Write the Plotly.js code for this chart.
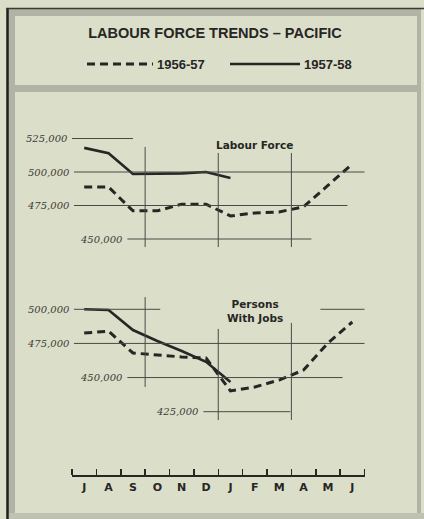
<!DOCTYPE html>
<html>
<head>
<meta charset="utf-8">
<script src="https://cdn.plot.ly/plotly-3.0.1.min.js"></script>
<style>html,body{margin:0;padding:0;background:#dbdec9;}#chart{width:424px;height:519px;}</style>
</head>
<body>
<div id="chart"></div>
<script>
// ---- data ----
const months = ['J','A','S','O','N','D','J','F','M','A','M','J'];
const labourForce5657 = [488800, 488800, 471000, 471000, 476000, 476000, 467200, 469400, 470200, 474000, 490000, 506000];
const labourForce5758 = [518000, 514000, 498500, 498500, 499000, 500000, 495500];
const withJobs5657 = [482600, 484000, 468000, 466500, 465100, 464300, 440200, 443100, 448200, 455500, 475300, 490700];
const withJobs5758 = [500000, 499500, 484800, 476800, 469500, 461500, 446700];
const seriesNames = ['1956-57', '1957-58'];
const topTicks = [525000, 500000, 475000, 450000];
const bottomTicks = [500000, 475000, 450000, 425000];
const panelLabels = ['Labour Force', 'Persons<br>With Jobs'];
const titleText = 'LABOUR FORCE TRENDS \u2013 PACIFIC';

// ---- layout helpers ----
const W = 424, H = 519;
const px = v => v / W;
const py = v => 1 - v / H;
const ink = '#262624';
const grid = '#4a4a46';
const idx = arr => arr.map((_, i) => i);
const fmt = v => v.toLocaleString('en-US');

const dashed = {color: ink, width: 3, dash: '8px,5px'};
const solid = {color: ink, width: 2.6};

const traces = [
  {x: idx(labourForce5657), y: labourForce5657, xaxis: 'x', yaxis: 'y', mode: 'lines', line: dashed, name: seriesNames[0]},
  {x: idx(labourForce5758), y: labourForce5758, xaxis: 'x', yaxis: 'y', mode: 'lines', line: solid, name: seriesNames[1]},
  {x: idx(withJobs5657), y: withJobs5657, xaxis: 'x', yaxis: 'y2', mode: 'lines', line: dashed, name: seriesNames[0]},
  {x: idx(withJobs5758), y: withJobs5758, xaxis: 'x', yaxis: 'y2', mode: 'lines', line: solid, name: seriesNames[1]}
];

// gridline extents (x in month units) for each tick value
const topH = [[-0.5, 2.0], [-0.42, 11.55], [-0.42, 10.8], [1.77, 9.32]];
const botH = [[[-0.42, 3.12], [9.69, 11.55]], [[-0.42, 11.55]], [[1.77, 10.6]], [[4.89, 8.46]]];
const topV = [[2.5, 518700, 444000], [5.5, 514200, 444000], [8.5, 514200, 444000]];
const botV = [[2.5, 509000, 443100], [5.5, 485600, 418900], [8.5, 490000, 418900]];

const shapes = [];
const annotations = [];
const tickFont = {family: 'DejaVu Serif', size: 10, color: '#3c3c38', style: 'italic'};

topTicks.forEach((t, i) => {
  const [a, b] = topH[i];
  shapes.push({type: 'line', xref: 'x', yref: 'y', x0: a, x1: b, y0: t, y1: t, line: {color: grid, width: 1}});
  annotations.push({xref: 'x', yref: 'y', x: a, y: t, text: fmt(t), showarrow: false, xanchor: 'right', xshift: -2, font: tickFont});
});
topV.forEach(([x, y0, y1]) => shapes.push({type: 'line', xref: 'x', yref: 'y', x0: x, x1: x, y0: y0, y1: y1, line: {color: grid, width: 1}}));
bottomTicks.forEach((t, i) => {
  botH[i].forEach(([a, b]) => shapes.push({type: 'line', xref: 'x', yref: 'y2', x0: a, x1: b, y0: t, y1: t, line: {color: grid, width: 1}}));
  annotations.push({xref: 'x', yref: 'y2', x: botH[i][0][0], y: t, text: fmt(t), showarrow: false, xanchor: 'right', xshift: -2, font: tickFont});
});
botV.forEach(([x, y0, y1]) => shapes.push({type: 'line', xref: 'x', yref: 'y2', x0: x, x1: x, y0: y0, y1: y1, line: {color: grid, width: 1}}));

// panel labels
const labFont = {family: 'DejaVu Sans', size: 10.5, color: ink};
annotations.push({xref: 'x', yref: 'y', x: 7.0, y: 520100, text: '<b>' + panelLabels[0] + '</b>', showarrow: false, font: labFont});
annotations.push({xref: 'x', yref: 'y2', x: 7.0, y: 499000, text: '<b>' + panelLabels[1] + '</b>', showarrow: false, font: labFont});

// frame decoration
const band = '#b1b3a4';
shapes.push({type: 'rect', xref: 'paper', yref: 'paper', x0: px(8), x1: px(421), y0: py(9), y1: py(16), fillcolor: band, line: {width: 0}, layer: 'below'});
shapes.push({type: 'rect', xref: 'paper', yref: 'paper', x0: px(8), x1: px(421), y0: py(85), y1: py(92), fillcolor: band, line: {width: 0}, layer: 'below'});
shapes.push({type: 'rect', xref: 'paper', yref: 'paper', x0: px(8), x1: px(15), y0: py(9), y1: py(514), fillcolor: band, line: {width: 0}, layer: 'below'});
shapes.push({type: 'rect', xref: 'paper', yref: 'paper', x0: px(417), x1: px(421), y0: py(9), y1: py(514), fillcolor: band, line: {width: 0}, layer: 'below'});
shapes.push({type: 'rect', xref: 'paper', yref: 'paper', x0: px(8), x1: px(424), y0: py(513), y1: py(519), fillcolor: '#bfc1b1', line: {width: 0}, layer: 'below'});
shapes.push({type: 'line', xref: 'paper', yref: 'paper', x0: px(7.5), x1: px(7.5), y0: py(8), y1: py(519), line: {color: '#1e1e1c', width: 2.5}});
shapes.push({type: 'line', xref: 'paper', yref: 'paper', x0: px(6), x1: px(424), y0: py(8.5), y1: py(8.5), line: {color: '#3a3a36', width: 1.5}});

// legend (drawn)
shapes.push({type: 'line', xref: 'paper', yref: 'paper', x0: px(87), x1: px(153), y0: py(64), y1: py(64), line: dashed});
shapes.push({type: 'line', xref: 'paper', yref: 'paper', x0: px(230), x1: px(300), y0: py(64), y1: py(64), line: solid});
const legFont = {family: 'Liberation Sans', size: 13, color: ink};
annotations.push({xref: 'paper', yref: 'paper', x: px(155), y: py(64), text: '<b>' + seriesNames[0] + '</b>', showarrow: false, xanchor: 'left', yanchor: 'middle', font: legFont});
annotations.push({xref: 'paper', yref: 'paper', x: px(302), y: py(64), text: '<b>' + seriesNames[1] + '</b>', showarrow: false, xanchor: 'left', yanchor: 'middle', font: legFont});

const layout = {
  width: W, height: H,
  margin: {l: 0, r: 0, t: 0, b: 0},
  paper_bgcolor: '#dbdec9',
  plot_bgcolor: 'rgba(0,0,0,0)',
  showlegend: false,
  title: {text: '<b>' + titleText + '</b>', x: px(215), xanchor: 'center', y: py(33), yanchor: 'middle',
          font: {family: 'Liberation Sans', size: 14.5, color: ink}},
  xaxis: {domain: [px(72), px(364.5)], range: [-0.5, 11.5], anchor: 'free', position: py(475), side: 'top',
          tickvals: [-0.5,0.5,1.5,2.5,3.5,4.5,5.5,6.5,7.5,8.5,9.5,10.5,11.5], showticklabels: false,
          ticks: 'outside', ticklen: 6, tickwidth: 1.5, tickcolor: ink,
          showline: true, linecolor: ink, linewidth: 1.5, showgrid: false, zeroline: false, fixedrange: true},
  xaxis2: {overlaying: 'x', domain: [px(72), px(364.5)], range: [-0.5, 11.5], anchor: 'free', position: py(475),
           side: 'bottom', tickmode: 'array', tickvals: idx(months), ticktext: months, ticks: '', showline: false,
           ticklabelstandoff: 4,
           showgrid: false, zeroline: false, tickfont: {family: 'DejaVu Sans', size: 11, color: ink, weight: 'bold'}},
  yaxis: {domain: [py(252.4), py(125.1)], range: [440000, 535000], visible: false, fixedrange: true},
  yaxis2: {domain: [py(425.34), py(295.65)], range: [415000, 510000], visible: false, fixedrange: true},
  shapes: shapes,
  annotations: annotations
};

// dummy trace to activate xaxis2
traces.push({x: [0], y: [null], xaxis: 'x2', yaxis: 'y', mode: 'lines', hoverinfo: 'skip', showlegend: false});

Plotly.newPlot('chart', traces, layout, {displayModeBar: false, staticPlot: true});
</script>
</body>
</html>
